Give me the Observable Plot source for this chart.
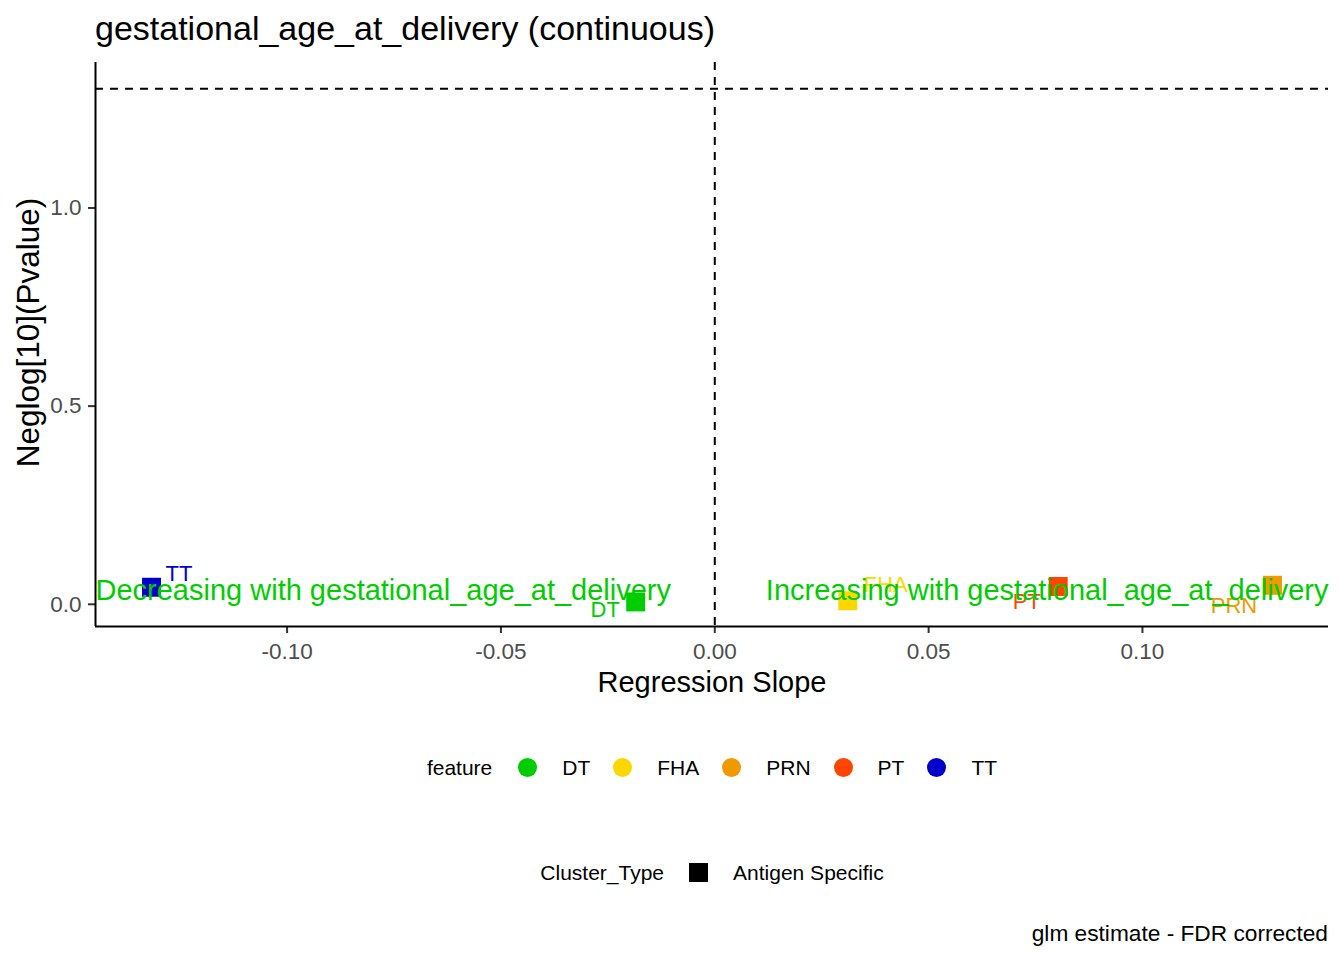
<!DOCTYPE html>
<html>
<head>
<meta charset="utf-8">
<script src="https://cdn.jsdelivr.net/npm/d3@7"></script>
<script src="https://cdn.jsdelivr.net/npm/@observablehq/plot@0.6"></script>
<style>
  html, body { margin: 0; padding: 0; background: #fff; }
  #root { position: relative; width: 1344px; height: 960px; font-family: "Liberation Sans", Arial, sans-serif; color: #000; overflow: hidden; }
  .abs { position: absolute; }
  .legend { position: absolute; left: 80px; width: 1264px; height: 30px; display: flex; justify-content: center; align-items: center; font-size: 21px; line-height: 21px; white-space: nowrap; }
</style>
</head>
<body>
<div id="root">
  <div id="title" class="abs" style="left:95px;top:11px;font-size:34px;line-height:34px;white-space:nowrap;"></div>
  <div id="chart" class="abs" style="left:0;top:52px;"></div>
  <div id="legend1" class="legend" style="top:752px;"></div>
  <div id="legend2" class="legend" style="top:857px;"></div>
  <div id="caption" class="abs" style="right:16px;top:922px;font-size:22.7px;line-height:22px;white-space:nowrap;"></div>
</div>
<script>
// ---------- data ----------
const titleText = "gestational_age_at_delivery (continuous)";
const xLabel = "Regression Slope";
const yLabel = "Neglog[10](Pvalue)";
const captionText = "glm estimate - FDR corrected";

const features = ["DT", "FHA", "PRN", "PT", "TT"];
const slopes   = [-0.0185, 0.0311, 0.1304, 0.0803, -0.1317];
const negLogP  = [0.006, 0.009, 0.048, 0.045, 0.043];
const featureColors = ["#00CD00", "#FFD700", "#EE9A00", "#FF4500", "#0000CD"];

const clusterTypes = ["Antigen Specific"];

const xTicks = [-0.10, -0.05, 0.00, 0.05, 0.10];
const yTicks = [0.0, 0.5, 1.0];

const annotationTexts = ["Decreasing with gestational_age_at_delivery", "Increasing with gestational_age_at_delivery"];
const annotationY = 0.035;
const significanceLine = 1.30103; // -log10(0.05)

const xDomain = [-0.1448, 0.1435];
const yDomain = [-0.056, 1.367];

// ---------- styles (label offsets in px, like ggrepel placement) ----------
const labelNudge = { DT: [-30.5, 8.5], FHA: [38, -15.5], PRN: [-38.5, 21], PT: [-31.5, 15], TT: [27.5, -13] };
const annotationGreen = "#00CD00";

const points = features.map((f, i) => ({ feature: f, slope: slopes[i], p: negLogP[i], cluster: clusterTypes[0] }));

document.getElementById("title").textContent = titleText;
document.getElementById("caption").textContent = captionText;

const font = "'Liberation Sans', Arial, sans-serif";

const labelMarks = points.map(d => Plot.text([d], {
  x: "slope", y: "p", text: "feature", fill: "feature",
  dx: labelNudge[d.feature][0], dy: labelNudge[d.feature][1],
  fontSize: 22
}));

const chart = Plot.plot({
  width: 1344,
  height: 660,
  marginLeft: 95,
  marginRight: 16,
  marginTop: 10,
  marginBottom: 86,
  style: { fontFamily: font, background: "#fff", overflow: "visible" },
  x: { domain: xDomain },
  y: { domain: yDomain },
  color: { domain: features, range: featureColors },
  marks: [
    Plot.ruleY([significanceLine], { stroke: "#000", strokeWidth: 2, strokeDasharray: "8,7" }),
    Plot.ruleX([0], { stroke: "#000", strokeWidth: 2, strokeDasharray: "8,7" }),
    Plot.dot(points, { x: "slope", y: "p", fill: "feature", symbol: "square", r: 10.7, stroke: null }),
    ...labelMarks,
    Plot.text([annotationTexts[0]], { y: () => annotationY, frameAnchor: "left", textAnchor: "start", fill: annotationGreen, fontSize: 29 }),
    Plot.text([annotationTexts[1]], { y: () => annotationY, frameAnchor: "right", textAnchor: "end", fill: annotationGreen, fontSize: 29 }),
    Plot.axisX({ ticks: xTicks, tickFormat: d => d.toFixed(2), tickSize: 7, tickPadding: 10, fontSize: 22.5, fill: "#4D4D4D", stroke: "#333333", strokeWidth: 2, label: null }),
    Plot.axisY({ ticks: yTicks, tickFormat: d => d.toFixed(1), tickSize: 7, tickPadding: 7, fontSize: 22.5, fill: "#4D4D4D", stroke: "#333333", strokeWidth: 2, label: null }),
    Plot.ruleX([xDomain[0]], { stroke: "#000", strokeWidth: 2 }),
    Plot.ruleY([yDomain[0]], { stroke: "#000", strokeWidth: 2 }),
    Plot.text([xLabel], { frameAnchor: "bottom", dy: 65, fontSize: 29, fill: "#000" }),
    Plot.text([yLabel], { frameAnchor: "left", textAnchor: "middle", rotate: -90, dx: -67, dy: -12, fontSize: 31.5, fill: "#000" })
  ]
});
document.getElementById("chart").appendChild(chart);

// ---------- legends (HTML, below the SVG) ----------
const lg1 = document.getElementById("legend1");
const t1 = document.createElement("span");
t1.textContent = "feature";
t1.style.marginRight = "26px";
lg1.appendChild(t1);
features.forEach((f, i) => {
  const c = document.createElement("span");
  c.style.cssText = `display:inline-block;width:19px;height:19px;border-radius:50%;background:${featureColors[i]};margin-right:25px;`;
  lg1.appendChild(c);
  const l = document.createElement("span");
  l.textContent = f;
  if (i < features.length - 1) l.style.marginRight = "23px";
  lg1.appendChild(l);
});

const lg2 = document.getElementById("legend2");
const t2 = document.createElement("span");
t2.textContent = "Cluster_Type";
t2.style.marginRight = "25px";
lg2.appendChild(t2);
clusterTypes.forEach((c, i) => {
  const s = document.createElement("span");
  s.style.cssText = "display:inline-block;width:19px;height:19px;background:#000;margin-right:25px;";
  lg2.appendChild(s);
  const l = document.createElement("span");
  l.textContent = c;
  lg2.appendChild(l);
});
</script>
</body>
</html>
